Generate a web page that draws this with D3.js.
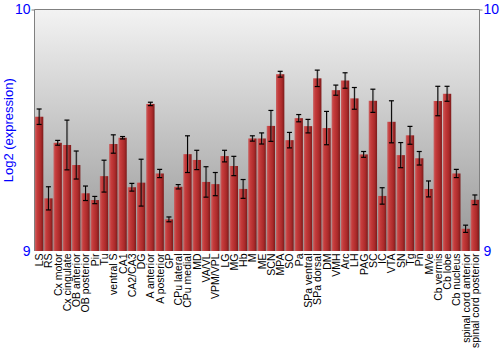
<!DOCTYPE html>
<html><head><meta charset="utf-8">
<script src="https://cdn.jsdelivr.net/npm/d3@7"></script>
<style>body{margin:0;background:#fff;}svg{display:block;font-family:"Liberation Sans",Arial,sans-serif;}</style>
</head><body><svg id="c" width="500" height="350"></svg>
<script>
const categories = ["LS","RS","Cx motor","Cx cingulate","OB anterior","OB posterior","Pir","Tu","ventral S","CA1","CA2/CA3","DG","A anterior","A posterior","GP","CPu lateral","CPu medial","MD","VA/VL","VPM/VPL","LG","MG","Hb","M","ME","SCN","MPA","SO","Pa","SPa ventral","SPa dorsal","DM","VMH","Arc","LH","PAG","SC","IC","VTA","SN","Tg","Pn","MVe","Cb vermis","Cb lobe","Cb nucleus","spinal cord anterior","spinal cord posterior"];
const values = [9.556,9.218,9.448,9.439,9.356,9.239,9.211,9.310,9.443,9.469,9.264,9.283,9.609,9.321,9.131,9.266,9.401,9.377,9.286,9.277,9.393,9.352,9.257,9.466,9.466,9.518,9.732,9.459,9.550,9.517,9.715,9.509,9.666,9.706,9.632,9.400,9.622,9.228,9.535,9.397,9.479,9.384,9.257,9.621,9.651,9.321,9.092,9.212];
const errors = [0.032,0.048,0.010,0.103,0.058,0.030,0.015,0.066,0.038,0.005,0.016,0.097,0.007,0.017,0.010,0.009,0.076,0.040,0.063,0.048,0.024,0.040,0.039,0.011,0.023,0.064,0.012,0.032,0.015,0.028,0.034,0.069,0.021,0.032,0.045,0.012,0.048,0.034,0.087,0.052,0.037,0.028,0.033,0.061,0.031,0.017,0.015,0.020];
const yTicks = [9, 10];
const yTitle = "Log2 (expression)";

const svg = d3.select("#c");
const L = 34.5, R = 479.5, T = 9.5, B = 251;
const x = d3.scaleBand().domain(categories).range([L, R]).paddingInner(0.1).paddingOuter(0.05);
const y = d3.scaleLinear().domain([9, 10]).range([B, T]);

const defs = svg.append("defs");
const bg = defs.append("linearGradient").attr("id","bg").attr("x1",0).attr("y1",0).attr("x2",0).attr("y2",1);
bg.append("stop").attr("offset","0%").attr("stop-color","#f3f3f3");
bg.append("stop").attr("offset","100%").attr("stop-color","#969696");
const bar = defs.append("linearGradient").attr("id","bar").attr("x1",0).attr("y1",0).attr("x2",1).attr("y2",0);
bar.append("stop").attr("offset","0%").attr("stop-color","#c86464");
bar.append("stop").attr("offset","25%").attr("stop-color","#c63c3c");
bar.append("stop").attr("offset","70%").attr("stop-color","#ab2a2a");
bar.append("stop").attr("offset","100%").attr("stop-color","#7c1b1b");

svg.append("rect").attr("x",L).attr("y",T).attr("width",R-L).attr("height",B-T).attr("fill","url(#bg)");

const data = categories.map((c,i)=>({c, v:values[i], e:errors[i]}));

svg.append("g").selectAll("rect").data(data).join("rect")
  .attr("x",d=>x(d.c)).attr("width",x.bandwidth())
  .attr("y",d=>y(d.v)).attr("height",d=>y(9)-y(d.v))
  .attr("fill","url(#bar)");

const eg = svg.append("g");
data.forEach(d=>{
  const cx = x(d.c)+x.bandwidth()/2;
  const y1 = y(d.v+d.e), y2 = y(d.v-d.e);
  eg.append("line").attr("x1",cx+0.8).attr("x2",cx+0.8).attr("y1",y1).attr("y2",y2).attr("stroke","#888").attr("stroke-width",1).attr("opacity",0.6);
  eg.append("line").attr("x1",cx).attr("x2",cx).attr("y1",y1).attr("y2",y2).attr("stroke","#000").attr("stroke-width",1);
  [y1,y2].forEach(yy=>{
    eg.append("line").attr("x1",cx-2.5).attr("x2",cx+2.5).attr("y1",yy).attr("y2",yy).attr("stroke","#000").attr("stroke-width",1.2);
  });
});

// border
svg.append("path").attr("d",`M${L},${B}V${T}H${R}V${B}`).attr("fill","none").attr("stroke","#808080").attr("stroke-width",1);

// y axes
const yl = svg.append("g").attr("transform",`translate(${L},0)`).call(d3.axisLeft(y).tickValues(yTicks).tickSize(3).tickPadding(1).tickFormat(d3.format("d")));
const yr = svg.append("g").attr("transform",`translate(${R},0)`).call(d3.axisRight(y).tickValues(yTicks).tickSize(3).tickPadding(1).tickFormat(d3.format("d")));
[yl,yr].forEach(g=>{
  g.select(".domain").remove();
  g.selectAll("line").attr("stroke","#808080");
  g.selectAll("text").attr("fill","#0000ff").style("font-size","14px").attr("font-family","Liberation Sans, Arial, sans-serif");
  g.selectAll(".tick").filter(d=>d===9).select("line").remove();
});

svg.append("text").attr("transform",`translate(13,${(T+B)/2}) rotate(-90)`).attr("text-anchor","middle")
  .attr("fill","#0000ff").style("font-size","13px").text(yTitle);

// x labels
svg.append("g").selectAll("text").data(categories).join("text")
  .attr("transform",d=>`translate(${x(d)+x.bandwidth()/2+4},${B+2.5}) rotate(-90)`)
  .attr("text-anchor","end").style("font-size","10.5px").attr("fill","#000").text(d=>d);
</script></body></html>
